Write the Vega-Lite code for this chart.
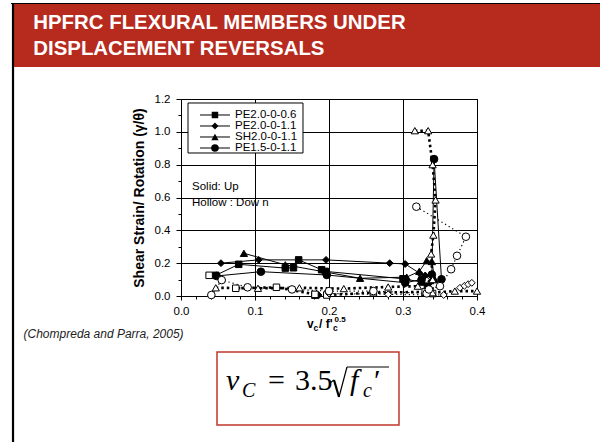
{
  "$schema": "https://vega.github.io/schema/vega-lite/v6.json",
  "width": 296,
  "height": 197,
  "autosize": {"type": "none"},
  "padding": {"left": 181, "top": 99, "right": 123, "bottom": 146},
  "background": "#ffffff",
  "config": {
    "font": "Liberation Sans",
    "view": {"stroke": "#000000", "strokeWidth": 1},
    "axis": {"labelFont": "Liberation Sans", "labelColor": "#000000", "labelFontSize": 11.5, "labelOverlap": false, "domainColor": "#000000", "tickColor": "#000000", "gridColor": "#000000", "gridOpacity": 1, "titleFont": "Liberation Sans", "titleColor": "#000000"}
  },
  "datasets": {
    "pts": [
      {"series": "PE2.0-0-0.6", "dir": "Up", "cycle": 1, "x": 0.047, "y": 0.126},
      {"series": "PE2.0-0-0.6", "dir": "Up", "cycle": 1, "x": 0.078, "y": 0.193},
      {"series": "PE2.0-0-0.6", "dir": "Up", "cycle": 1, "x": 0.141, "y": 0.170},
      {"series": "PE2.0-0-0.6", "dir": "Up", "cycle": 1, "x": 0.152, "y": 0.172},
      {"series": "PE2.0-0-0.6", "dir": "Up", "cycle": 1, "x": 0.159, "y": 0.220},
      {"series": "PE2.0-0-0.6", "dir": "Up", "cycle": 1, "x": 0.190, "y": 0.160},
      {"series": "PE2.0-0-0.6", "dir": "Up", "cycle": 1, "x": 0.195, "y": 0.150},
      {"series": "PE2.0-0-0.6", "dir": "Up", "cycle": 1, "x": 0.300, "y": 0.105},
      {"series": "PE2.0-0-0.6", "dir": "Up", "cycle": 1, "x": 0.325, "y": 0.085},
      {"series": "PE2.0-0-0.6", "dir": "Up", "cycle": 1, "x": 0.333, "y": 0.060},
      {"series": "PE2.0-0-0.6", "dir": "Up", "cycle": 2, "x": 0.181, "y": 0.005},
      {"series": "PE2.0-0-1.1", "dir": "Up", "cycle": 1, "x": 0.054, "y": 0.200},
      {"series": "PE2.0-0-1.1", "dir": "Up", "cycle": 1, "x": 0.105, "y": 0.220},
      {"series": "PE2.0-0-1.1", "dir": "Up", "cycle": 1, "x": 0.196, "y": 0.220},
      {"series": "PE2.0-0-1.1", "dir": "Up", "cycle": 1, "x": 0.282, "y": 0.200},
      {"series": "PE2.0-0-1.1", "dir": "Up", "cycle": 1, "x": 0.303, "y": 0.195},
      {"series": "PE2.0-0-1.1", "dir": "Up", "cycle": 1, "x": 0.322, "y": 0.140},
      {"series": "PE2.0-0-1.1", "dir": "Up", "cycle": 1, "x": 0.330, "y": 0.125},
      {"series": "PE2.0-0-1.1", "dir": "Up", "cycle": 1, "x": 0.338, "y": 0.090},
      {"series": "PE2.0-0-1.1", "dir": "Up", "cycle": 1, "x": 0.335, "y": 0.030},
      {"series": "PE2.0-0-1.1", "dir": "Up", "cycle": 2, "x": 0.186, "y": 0.005},
      {"series": "SH2.0-0-1.1", "dir": "Up", "cycle": 1, "x": 0.085, "y": 0.260},
      {"series": "SH2.0-0-1.1", "dir": "Up", "cycle": 1, "x": 0.141, "y": 0.190},
      {"series": "SH2.0-0-1.1", "dir": "Up", "cycle": 1, "x": 0.242, "y": 0.108},
      {"series": "SH2.0-0-1.1", "dir": "Up", "cycle": 1, "x": 0.305, "y": 0.115},
      {"series": "SH2.0-0-1.1", "dir": "Up", "cycle": 1, "x": 0.322, "y": 0.150},
      {"series": "SH2.0-0-1.1", "dir": "Up", "cycle": 1, "x": 0.332, "y": 0.215},
      {"series": "SH2.0-0-1.1", "dir": "Up", "cycle": 1, "x": 0.339, "y": 0.210},
      {"series": "SH2.0-0-1.1", "dir": "Up", "cycle": 1, "x": 0.343, "y": 0.100},
      {"series": "SH2.0-0-1.1", "dir": "Up", "cycle": 1, "x": 0.330, "y": 0.020},
      {"series": "PE1.5-0-1.1", "dir": "Up", "cycle": 1, "x": 0.048, "y": 0.122},
      {"series": "PE1.5-0-1.1", "dir": "Up", "cycle": 1, "x": 0.108, "y": 0.148},
      {"series": "PE1.5-0-1.1", "dir": "Up", "cycle": 1, "x": 0.197, "y": 0.128},
      {"series": "PE1.5-0-1.1", "dir": "Up", "cycle": 1, "x": 0.303, "y": 0.081},
      {"series": "PE1.5-0-1.1", "dir": "Up", "cycle": 1, "x": 0.325, "y": 0.100},
      {"series": "PE1.5-0-1.1", "dir": "Up", "cycle": 1, "x": 0.339, "y": 0.130},
      {"series": "PE1.5-0-1.1", "dir": "Up", "cycle": 1, "x": 0.342, "y": 0.834},
      {"series": "PE1.5-0-1.1", "dir": "Up", "cycle": 1, "x": 0.352, "y": 0.102},
      {"series": "PE2.0-0-0.6", "dir": "Down", "cycle": 3, "x": 0.038, "y": 0.126},
      {"series": "PE2.0-0-0.6", "dir": "Down", "cycle": 1, "x": 0.074, "y": 0.047},
      {"series": "PE2.0-0-0.6", "dir": "Down", "cycle": 1, "x": 0.129, "y": 0.053},
      {"series": "PE2.0-0-0.6", "dir": "Down", "cycle": 1, "x": 0.181, "y": 0.010},
      {"series": "PE2.0-0-0.6", "dir": "Down", "cycle": 1, "x": 0.197, "y": 0.006},
      {"series": "PE2.0-0-0.6", "dir": "Down", "cycle": 1, "x": 0.260, "y": 0.020},
      {"series": "PE2.0-0-0.6", "dir": "Down", "cycle": 1, "x": 0.330, "y": 0.025},
      {"series": "PE2.0-0-0.6", "dir": "Down", "cycle": 1, "x": 0.340, "y": 0.015},
      {"series": "PE2.0-0-1.1", "dir": "Down", "cycle": 1, "x": 0.200, "y": 0.015},
      {"series": "PE2.0-0-1.1", "dir": "Down", "cycle": 1, "x": 0.280, "y": 0.010},
      {"series": "PE2.0-0-1.1", "dir": "Down", "cycle": 1, "x": 0.355, "y": 0.006},
      {"series": "PE2.0-0-1.1", "dir": "Down", "cycle": 1, "x": 0.377, "y": 0.050},
      {"series": "PE2.0-0-1.1", "dir": "Down", "cycle": 1, "x": 0.383, "y": 0.062},
      {"series": "PE2.0-0-1.1", "dir": "Down", "cycle": 1, "x": 0.388, "y": 0.072},
      {"series": "PE2.0-0-1.1", "dir": "Down", "cycle": 1, "x": 0.393, "y": 0.080},
      {"series": "SH2.0-0-1.1", "dir": "Down", "cycle": 1, "x": 0.047, "y": 0.050},
      {"series": "SH2.0-0-1.1", "dir": "Down", "cycle": 1, "x": 0.104, "y": 0.047},
      {"series": "SH2.0-0-1.1", "dir": "Down", "cycle": 1, "x": 0.160, "y": 0.050},
      {"series": "SH2.0-0-1.1", "dir": "Down", "cycle": 1, "x": 0.220, "y": 0.045},
      {"series": "SH2.0-0-1.1", "dir": "Down", "cycle": 1, "x": 0.280, "y": 0.055},
      {"series": "SH2.0-0-1.1", "dir": "Down", "cycle": 1, "x": 0.320, "y": 0.060},
      {"series": "SH2.0-0-1.1", "dir": "Down", "cycle": 2, "x": 0.316, "y": 1.007},
      {"series": "SH2.0-0-1.1", "dir": "Down", "cycle": 2, "x": 0.334, "y": 1.007},
      {"series": "SH2.0-0-1.1", "dir": "Down", "cycle": 2, "x": 0.340, "y": 0.800},
      {"series": "SH2.0-0-1.1", "dir": "Down", "cycle": 2, "x": 0.344, "y": 0.585},
      {"series": "SH2.0-0-1.1", "dir": "Down", "cycle": 2, "x": 0.341, "y": 0.371},
      {"series": "SH2.0-0-1.1", "dir": "Down", "cycle": 2, "x": 0.338, "y": 0.256},
      {"series": "SH2.0-0-1.1", "dir": "Down", "cycle": 2, "x": 0.340, "y": 0.100},
      {"series": "SH2.0-0-1.1", "dir": "Down", "cycle": 2, "x": 0.340, "y": 0.020},
      {"series": "SH2.0-0-1.1", "dir": "Down", "cycle": 2, "x": 0.370, "y": 0.030},
      {"series": "SH2.0-0-1.1", "dir": "Down", "cycle": 2, "x": 0.400, "y": 0.030},
      {"series": "PE1.5-0-1.1", "dir": "Down", "cycle": 1, "x": 0.041, "y": 0.006},
      {"series": "PE1.5-0-1.1", "dir": "Down", "cycle": 1, "x": 0.055, "y": 0.097},
      {"series": "PE1.5-0-1.1", "dir": "Down", "cycle": 1, "x": 0.090, "y": 0.053},
      {"series": "PE1.5-0-1.1", "dir": "Down", "cycle": 1, "x": 0.150, "y": 0.040},
      {"series": "PE1.5-0-1.1", "dir": "Down", "cycle": 1, "x": 0.200, "y": 0.030},
      {"series": "PE1.5-0-1.1", "dir": "Down", "cycle": 1, "x": 0.260, "y": 0.030},
      {"series": "PE1.5-0-1.1", "dir": "Down", "cycle": 1, "x": 0.332, "y": 0.016},
      {"series": "PE1.5-0-1.1", "dir": "Down", "cycle": 2, "x": 0.318, "y": 0.544},
      {"series": "PE1.5-0-1.1", "dir": "Down", "cycle": 2, "x": 0.385, "y": 0.361},
      {"series": "PE1.5-0-1.1", "dir": "Down", "cycle": 2, "x": 0.373, "y": 0.245},
      {"series": "PE1.5-0-1.1", "dir": "Down", "cycle": 2, "x": 0.365, "y": 0.163},
      {"series": "PE1.5-0-1.1", "dir": "Down", "cycle": 2, "x": 0.350, "y": 0.060},
      {"series": "PE1.5-0-1.1", "dir": "Down", "cycle": 2, "x": 0.335, "y": 0.040}
    ]
  },
  "resolve": {"axis": {"x": "independent", "y": "independent"}},
  "layer": [
    {
      "data": {"name": "pts"},
      "layer": [
        {
          "transform": [{"filter": {"and": [{"field": "dir", "equal": "Down"}, {"field": "series", "oneOf": ["PE2.0-0-0.6", "SH2.0-0-1.1"]}]}}],
          "mark": {"type": "line", "color": "#000000", "strokeWidth": 2.6, "strokeDash": [2.5, 3]},
          "encoding": {
            "x": {"field": "x", "type": "quantitative", "scale": {"domain": [0, 0.4], "nice": false, "zero": false},
              "axis": {"orient": "bottom", "values": [0, 0.1, 0.2, 0.3, 0.4], "format": ".1f", "grid": true, "title": null, "tickSize": 4, "labelPadding": 5, "labelFlush": false}},
            "y": {"field": "y", "type": "quantitative", "scale": {"domain": [0, 1.2], "nice": false, "zero": false},
              "axis": {"orient": "left", "values": [0, 0.2, 0.4, 0.6, 0.8, 1, 1.2], "tickCount": 7, "format": ".1f", "grid": true, "labelOverlap": false, "title": "Shear Strain/ Rotation (γ/θ)", "titleFontSize": 14, "titleFontWeight": "bold", "titlePadding": 8, "tickSize": 5, "labelPadding": 6}},
            "detail": [{"field": "series"}, {"field": "cycle"}],
            "order": {"value": null}
          }
        },
        {
          "transform": [{"filter": {"and": [{"field": "dir", "equal": "Down"}, {"field": "series", "oneOf": ["PE2.0-0-1.1", "PE1.5-0-1.1"]}]}}],
          "mark": {"type": "line", "color": "#000000", "strokeWidth": 1.2, "strokeDash": [1.2, 3]},
          "encoding": {
            "x": {"field": "x", "type": "quantitative"},
            "y": {"field": "y", "type": "quantitative"},
            "detail": [{"field": "series"}, {"field": "cycle"}],
            "order": {"value": null}
          }
        },
        {
          "transform": [{"filter": {"field": "dir", "equal": "Up"}}],
          "mark": {"type": "line", "color": "#000000", "strokeWidth": 1},
          "encoding": {
            "x": {"field": "x", "type": "quantitative"},
            "y": {"field": "y", "type": "quantitative"},
            "detail": [{"field": "series"}, {"field": "cycle"}],
            "order": {"value": null}
          }
        },
        {
          "mark": {"type": "point", "stroke": "#000000", "strokeWidth": 1, "opacity": 1},
          "encoding": {
            "x": {"field": "x", "type": "quantitative"},
            "y": {"field": "y", "type": "quantitative"},
            "shape": {"field": "series", "type": "nominal", "scale": {"domain": ["PE2.0-0-0.6", "PE2.0-0-1.1", "SH2.0-0-1.1", "PE1.5-0-1.1"], "range": ["square", "diamond", "triangle-up", "circle"]}, "legend": null},
            "size": {"field": "series", "type": "ordinal", "scale": {"domain": ["PE2.0-0-0.6", "PE2.0-0-1.1", "SH2.0-0-1.1", "PE1.5-0-1.1"], "range": [42, 58, 52, 42]}, "legend": null},
            "fill": {"field": "dir", "type": "nominal", "scale": {"domain": ["Up", "Down"], "range": ["#000000", "#ffffff"]}, "legend": null}
          }
        },
        {
          "data": {"values": [{}]},
          "mark": {"type": "rect", "color": "#b72a1e"},
          "encoding": {
            "x": {"datum": -0.2257, "type": "quantitative"}, "x2": {"datum": 0.5676},
            "y": {"datum": 1.7787, "type": "quantitative"}, "y2": {"datum": 1.3949}
          }
        },
        {
          "data": {"values": [{}]},
          "mark": {"type": "rule", "color": "#000000", "strokeWidth": 1},
          "encoding": {
            "x": {"datum": -0.2297, "type": "quantitative"}, "x2": {"datum": 0.5676},
            "y": {"datum": 1.7817, "type": "quantitative"}
          }
        },
        {
          "data": {"values": [{}]},
          "mark": {"type": "rule", "color": "#000000", "strokeWidth": 2.2},
          "encoding": {
            "x": {"datum": -0.2270, "type": "quantitative"},
            "y": {"datum": 1.7848, "type": "quantitative"}, "y2": {"datum": -0.9076}
          }
        },
        {
          "data": {"values": [{}]},
          "mark": {"type": "text", "text": "HPFRC FLEXURAL MEMBERS UNDER", "align": "left", "baseline": "alphabetic", "font": "Liberation Sans", "fontWeight": "bold", "fontSize": 20.4, "color": "#ffffff"},
          "encoding": {"x": {"datum": -0.1996, "type": "quantitative"}, "y": {"datum": 1.6246, "type": "quantitative"}}
        },
        {
          "data": {"values": [{}]},
          "mark": {"type": "text", "text": "DISPLACEMENT REVERSALS", "align": "left", "baseline": "alphabetic", "font": "Liberation Sans", "fontWeight": "bold", "fontSize": 20.4, "color": "#ffffff"},
          "encoding": {"x": {"datum": -0.1996, "type": "quantitative"}, "y": {"datum": 1.4680, "type": "quantitative"}}
        },
        {
          "data": {"values": [{}]},
          "mark": {"type": "text", "text": "(Chompreda and Parra, 2005)", "align": "left", "baseline": "middle", "font": "Liberation Sans", "fontStyle": "italic", "fontSize": 12, "color": "#222222"},
          "encoding": {"x": {"datum": -0.2128, "type": "quantitative"}, "y": {"datum": -0.2315, "type": "quantitative"}}
        },
        {
          "data": {"values": [{}]},
          "mark": {"type": "rect", "fill": "#ffffff", "stroke": "#c0392b", "strokeWidth": 1.5},
          "encoding": {
            "x": {"datum": 0.04865, "type": "quantitative"}, "x2": {"datum": 0.29459},
            "y": {"datum": -0.3411, "type": "quantitative"}, "y2": {"datum": -0.7858}
          }
        },
        {
          "data": {"values": [{}]},
          "mark": {"type": "text", "text": "v", "align": "left", "baseline": "alphabetic", "font": "Liberation Serif", "fontStyle": "italic", "fontSize": 30, "color": "#000000"},
          "encoding": {"x": {"datum": 0.0608, "type": "quantitative"}, "y": {"datum": -0.5726, "type": "quantitative"}}
        },
        {
          "data": {"values": [{}]},
          "mark": {"type": "text", "text": "C", "align": "left", "baseline": "alphabetic", "font": "Liberation Serif", "fontStyle": "italic", "fontSize": 20, "color": "#000000"},
          "encoding": {"x": {"datum": 0.0824, "type": "quantitative"}, "y": {"datum": -0.6152, "type": "quantitative"}}
        },
        {
          "data": {"values": [{}]},
          "mark": {"type": "text", "text": "=", "align": "left", "baseline": "alphabetic", "font": "Liberation Serif", "fontSize": 30, "color": "#000000"},
          "encoding": {"x": {"datum": 0.1176, "type": "quantitative"}, "y": {"datum": -0.5726, "type": "quantitative"}}
        },
        {
          "data": {"values": [{}]},
          "mark": {"type": "text", "text": "3.5", "align": "left", "baseline": "alphabetic", "font": "Liberation Serif", "fontSize": 30, "color": "#000000"},
          "encoding": {"x": {"datum": 0.1540, "type": "quantitative"}, "y": {"datum": -0.5726, "type": "quantitative"}}
        },
        {
          "data": {"values": [{}]},
          "mark": {"type": "rule", "color": "#000000", "strokeWidth": 1.1},
          "encoding": {
            "x": {"datum": 0.20135, "type": "quantitative"}, "x2": {"datum": 0.20676},
            "y": {"datum": -0.52995, "type": "quantitative"}, "y2": {"datum": -0.51168}
          }
        },
        {
          "data": {"values": [{}]},
          "mark": {"type": "rule", "color": "#000000", "strokeWidth": 2.2},
          "encoding": {
            "x": {"datum": 0.20676, "type": "quantitative"}, "x2": {"datum": 0.21351},
            "y": {"datum": -0.51168, "type": "quantitative"}, "y2": {"datum": -0.61523}
          }
        },
        {
          "data": {"values": [{}]},
          "mark": {"type": "rule", "color": "#000000", "strokeWidth": 1.2},
          "encoding": {
            "x": {"datum": 0.21351, "type": "quantitative"}, "x2": {"datum": 0.22432},
            "y": {"datum": -0.61523, "type": "quantitative"}, "y2": {"datum": -0.43249}
          }
        },
        {
          "data": {"values": [{}]},
          "mark": {"type": "rule", "color": "#000000", "strokeWidth": 1.2},
          "encoding": {
            "x": {"datum": 0.22432, "type": "quantitative"}, "x2": {"datum": 0.28108},
            "y": {"datum": -0.43249, "type": "quantitative"}
          }
        },
        {
          "data": {"values": [{}]},
          "mark": {"type": "text", "text": "f", "align": "left", "baseline": "alphabetic", "font": "Liberation Serif", "fontStyle": "italic", "fontSize": 30, "color": "#000000"},
          "encoding": {"x": {"datum": 0.2284, "type": "quantitative"}, "y": {"datum": -0.5726, "type": "quantitative"}}
        },
        {
          "data": {"values": [{}]},
          "mark": {"type": "text", "text": "c", "align": "left", "baseline": "alphabetic", "font": "Liberation Serif", "fontStyle": "italic", "fontSize": 20, "color": "#000000"},
          "encoding": {"x": {"datum": 0.2459, "type": "quantitative"}, "y": {"datum": -0.6152, "type": "quantitative"}}
        },
        {
          "data": {"values": [{}]},
          "mark": {"type": "text", "text": "′", "align": "left", "baseline": "alphabetic", "font": "Liberation Serif", "fontSize": 30, "color": "#000000"},
          "encoding": {"x": {"datum": 0.2608, "type": "quantitative"}, "y": {"datum": -0.5726, "type": "quantitative"}}
        },
        {
          "data": {"values": [{}]},
          "mark": {"type": "text", "text": "v", "align": "left", "baseline": "alphabetic", "fontWeight": "bold", "fontSize": 12, "color": "#000000"},
          "encoding": {"x": {"datum": 0.1703, "type": "quantitative"}, "y": {"datum": -0.1949, "type": "quantitative"}}
        },
        {
          "data": {"values": [{}]},
          "mark": {"type": "text", "text": "c", "align": "left", "baseline": "alphabetic", "fontWeight": "bold", "fontSize": 8.5, "color": "#000000"},
          "encoding": {"x": {"datum": 0.1791, "type": "quantitative"}, "y": {"datum": -0.2132, "type": "quantitative"}}
        },
        {
          "data": {"values": [{}]},
          "mark": {"type": "text", "text": "/ f'", "align": "left", "baseline": "alphabetic", "fontWeight": "bold", "fontSize": 12, "color": "#000000"},
          "encoding": {"x": {"datum": 0.1865, "type": "quantitative"}, "y": {"datum": -0.1949, "type": "quantitative"}}
        },
        {
          "data": {"values": [{}]},
          "mark": {"type": "text", "text": "c", "align": "left", "baseline": "alphabetic", "fontWeight": "bold", "fontSize": 8.5, "color": "#000000"},
          "encoding": {"x": {"datum": 0.2054, "type": "quantitative"}, "y": {"datum": -0.2132, "type": "quantitative"}}
        },
        {
          "data": {"values": [{}]},
          "mark": {"type": "text", "text": "0.5", "align": "left", "baseline": "alphabetic", "fontWeight": "bold", "fontSize": 8, "color": "#000000"},
          "encoding": {"x": {"datum": 0.2075, "type": "quantitative"}, "y": {"datum": -0.1584, "type": "quantitative"}}
        },
        {
          "data": {"values": [{}]},
          "mark": {"type": "rect", "fill": "#ffffff", "stroke": "#000000", "strokeWidth": 1},
          "encoding": {
            "x": {"datum": 0.00946, "type": "quantitative"}, "x2": {"datum": 0.16486},
            "y": {"datum": 1.1757, "type": "quantitative"}, "y2": {"datum": 0.8711}
          }
        },
        {
          "data": {"values": [{"series": "PE2.0-0-0.6"}]},
          "encoding": {"y": {"datum": 1.1026, "type": "quantitative"}},
          "layer": [
            {"mark": {"type": "rule", "color": "#000000", "strokeWidth": 1}, "encoding": {"x": {"datum": 0.0257, "type": "quantitative"}, "x2": {"datum": 0.0662}}},
            {"mark": {"type": "point", "filled": true, "color": "#000000", "opacity": 1}, "encoding": {"x": {"datum": 0.0459, "type": "quantitative"}, "shape": {"field": "series", "type": "nominal", "legend": null}, "size": {"field": "series", "type": "ordinal", "legend": null}}},
            {"mark": {"type": "text", "align": "left", "baseline": "middle", "fontSize": 11.5, "color": "#000000"}, "encoding": {"x": {"datum": 0.073, "type": "quantitative"}, "text": {"field": "series"}}}
          ]
        },
        {
          "data": {"values": [{"series": "PE2.0-0-1.1"}]},
          "encoding": {"y": {"datum": 1.0356, "type": "quantitative"}},
          "layer": [
            {"mark": {"type": "rule", "color": "#000000", "strokeWidth": 1}, "encoding": {"x": {"datum": 0.0257, "type": "quantitative"}, "x2": {"datum": 0.0662}}},
            {"mark": {"type": "point", "filled": true, "color": "#000000", "opacity": 1}, "encoding": {"x": {"datum": 0.0459, "type": "quantitative"}, "shape": {"field": "series", "type": "nominal", "legend": null}, "size": {"field": "series", "type": "ordinal", "legend": null}}},
            {"mark": {"type": "text", "align": "left", "baseline": "middle", "fontSize": 11.5, "color": "#000000"}, "encoding": {"x": {"datum": 0.073, "type": "quantitative"}, "text": {"field": "series"}}}
          ]
        },
        {
          "data": {"values": [{"series": "SH2.0-0-1.1"}]},
          "encoding": {"y": {"datum": 0.9686, "type": "quantitative"}},
          "layer": [
            {"mark": {"type": "rule", "color": "#000000", "strokeWidth": 1}, "encoding": {"x": {"datum": 0.0257, "type": "quantitative"}, "x2": {"datum": 0.0662}}},
            {"mark": {"type": "point", "filled": true, "color": "#000000", "opacity": 1}, "encoding": {"x": {"datum": 0.0459, "type": "quantitative"}, "shape": {"field": "series", "type": "nominal", "legend": null}, "size": {"field": "series", "type": "ordinal", "legend": null}}},
            {"mark": {"type": "text", "align": "left", "baseline": "middle", "fontSize": 11.5, "color": "#000000"}, "encoding": {"x": {"datum": 0.073, "type": "quantitative"}, "text": {"field": "series"}}}
          ]
        },
        {
          "data": {"values": [{"series": "PE1.5-0-1.1"}]},
          "encoding": {"y": {"datum": 0.9015, "type": "quantitative"}},
          "layer": [
            {"mark": {"type": "rule", "color": "#000000", "strokeWidth": 1}, "encoding": {"x": {"datum": 0.0257, "type": "quantitative"}, "x2": {"datum": 0.0662}}},
            {"mark": {"type": "point", "filled": true, "color": "#000000", "opacity": 1}, "encoding": {"x": {"datum": 0.0459, "type": "quantitative"}, "shape": {"field": "series", "type": "nominal", "legend": null}, "size": {"field": "series", "type": "ordinal", "legend": null}}},
            {"mark": {"type": "text", "align": "left", "baseline": "middle", "fontSize": 11.5, "color": "#000000"}, "encoding": {"x": {"datum": 0.073, "type": "quantitative"}, "text": {"field": "series"}}}
          ]
        },
        {
          "data": {"values": [{}]},
          "mark": {"type": "text", "text": "Solid: Up", "align": "left", "baseline": "middle", "fontSize": 11.5, "color": "#000000"},
          "encoding": {"x": {"datum": 0.0149, "type": "quantitative"}, "y": {"datum": 0.667, "type": "quantitative"}}
        },
        {
          "data": {"values": [{}]},
          "mark": {"type": "text", "text": "Hollow : Dow n", "align": "left", "baseline": "middle", "fontSize": 11.5, "color": "#000000"},
          "encoding": {"x": {"datum": 0.0149, "type": "quantitative"}, "y": {"datum": 0.5695, "type": "quantitative"}}
        }
      ]
    },
    {
      "data": {"name": "pts"},
      "mark": {"type": "point", "opacity": 0},
      "encoding": {
        "x": {"field": "x", "type": "quantitative",
          "axis": {"orient": "bottom", "values": [0.02, 0.04, 0.06, 0.08, 0.12, 0.14, 0.16, 0.18, 0.22, 0.24, 0.26, 0.28, 0.32, 0.34, 0.36, 0.38], "labels": false, "domain": false, "grid": false, "title": null, "tickSize": 3}},
        "y": {"field": "y", "type": "quantitative",
          "axis": {"orient": "left", "values": [0.1, 0.3, 0.5, 0.7, 0.9, 1.1], "labels": false, "domain": false, "grid": false, "title": null, "tickSize": 3}}
      }
    }
  ]
}
